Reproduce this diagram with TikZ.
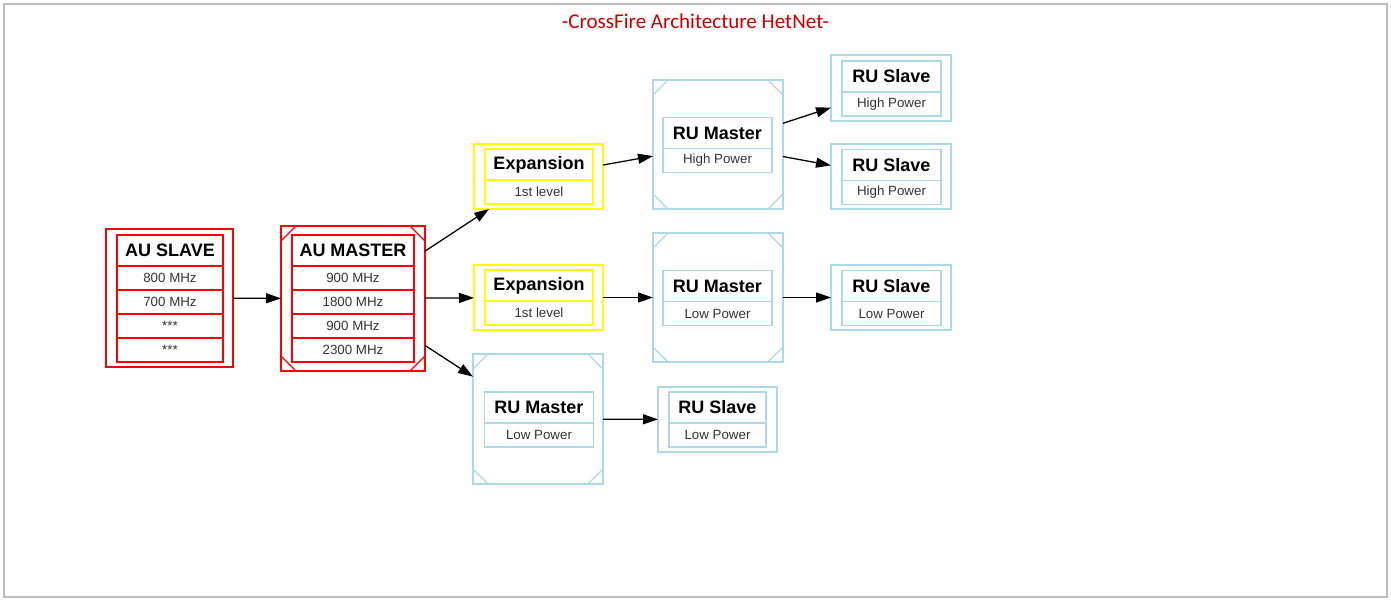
\documentclass[tikz,border=0pt]{standalone}
\usepackage{fontspec}
\setmainfont{Liberation Sans}
\newfontfamily\titlefont{Carlito}
\usetikzlibrary{arrows.meta,positioning}

\newdimen\px
\px=0.75pt

\definecolor{aured}{HTML}{FF0000}
\definecolor{expyellow}{HTML}{FFFF00}
\definecolor{rublue}{HTML}{ADD8E6}
\definecolor{titlered}{HTML}{CC0000}
\definecolor{framegray}{HTML}{BDBDBD}

\tikzset{
  box/.style={draw=#1, rectangle, inner sep=0pt, outer sep=0pt, line width=1.2\px},
  msquare/.style={path picture={
      \draw[#1, line width=1.2\px]
        ([yshift=-15\px]path picture bounding box.north west) -- ([xshift=15\px]path picture bounding box.north west)
        ([yshift=-15\px]path picture bounding box.north east) -- ([xshift=-15\px]path picture bounding box.north east)
        ([yshift=15\px]path picture bounding box.south west) -- ([xshift=15\px]path picture bounding box.south west)
        ([yshift=15\px]path picture bounding box.south east) -- ([xshift=-15\px]path picture bounding box.south east);
    }},
  head/.style={box=#1, minimum height=31\px, font=\fontsize{13.5}{16}\selectfont\bfseries},
  row/.style={box=#1, minimum height=24\px, font=\fontsize{10}{12}\selectfont, text=black!80},
  link/.style={-{Triangle[length=11.25pt,width=7.5pt]}, line width=0.95pt},
}

\begin{document}
\begin{tikzpicture}[x=0.75pt, y=-0.75pt]
  \useasboundingbox (0,0) rectangle (1391,601);
  \draw[framegray, line width=1.3\px] (4,4) rectangle (1387,597);

  \node[font=\titlefont\fontsize{15.8}{18}\selectfont, text=titlered] (title) at (695.5,21) {-CrossFire Architecture HetNet-};

  % outer boxes
  \node[box=aured, minimum width=127\px, minimum height=138\px] (ausl) at (169.5,298) {};
  \node[box=aured, msquare=aured, minimum width=144\px, minimum height=145\px] (aums) at (353,298.5) {};
  \node[box=expyellow, minimum width=129\px, minimum height=65\px] (expa) at (538.5,176.5) {};
  \node[box=expyellow, minimum width=129\px, minimum height=65\px] (expb) at (538.5,297.5) {};
  \node[box=rublue, msquare=rublue, minimum width=130\px, minimum height=129\px] (ruma) at (718,144.5) {};
  \node[box=rublue, msquare=rublue, minimum width=130\px, minimum height=129\px] (rumb) at (718,297.5) {};
  \node[box=rublue, msquare=rublue, minimum width=130\px, minimum height=130\px] (rumc) at (538,419) {};
  \node[box=rublue, minimum width=120\px, minimum height=66\px] (rusa) at (891,88) {};
  \node[box=rublue, minimum width=120\px, minimum height=65\px] (rusb) at (891,176.5) {};
  \node[box=rublue, minimum width=120\px, minimum height=65\px] (rusc) at (891,297.5) {};
  \node[box=rublue, minimum width=119\px, minimum height=65\px] (rusd) at (717.5,419.5) {};

  % AU tables
  \begin{scope}[every node/.append style={minimum width=106\px}]
    \node[head=aured] (ausl-h) at (170,250.5) {AU SLAVE};
    \node[row=aured, below=0pt of ausl-h] (ausl-1) {800 MHz};
    \node[row=aured, below=0pt of ausl-1] (ausl-2) {700 MHz};
    \node[row=aured, below=0pt of ausl-2] (ausl-3) {***};
    \node[row=aured, below=0pt of ausl-3] (ausl-4) {***};
  \end{scope}
  \begin{scope}[every node/.append style={minimum width=122\px}]
    \node[head=aured] (aums-h) at (353,250.5) {AU MASTER};
    \node[row=aured, below=0pt of aums-h] (aums-1) {900 MHz};
    \node[row=aured, below=0pt of aums-1] (aums-2) {1800 MHz};
    \node[row=aured, below=0pt of aums-2] (aums-3) {900 MHz};
    \node[row=aured, below=0pt of aums-3] (aums-4) {2300 MHz};
  \end{scope}

  % expansion tables
  \begin{scope}[every node/.append style={minimum width=108\px}]
    \node[head=expyellow] (expa-h) at (539,164.5) {Expansion};
    \node[row=expyellow, below=0pt of expa-h] (expa-1) {1st level};
    \node[head=expyellow] (expb-h) at (539,285.5) {Expansion};
    \node[row=expyellow, below=0pt of expb-h] (expb-1) {1st level};
  \end{scope}

  % RU tables
  \begin{scope}[every node/.append style={minimum width=109\px}]
    \node[head=rublue] (ruma-h) at (717.5,133) {RU Master};
    \node[row=rublue, below=0pt of ruma-h] (ruma-1) {High Power};
    \node[head=rublue] (rumb-h) at (717.5,286) {RU Master};
    \node[row=rublue, below=0pt of rumb-h] (rumb-1) {Low Power};
    \node[head=rublue] (rumc-h) at (539,407.5) {RU Master};
    \node[row=rublue, below=0pt of rumc-h] (rumc-1) {Low Power};
  \end{scope}
  \begin{scope}[every node/.append style={minimum width=99\px}]
    \node[head=rublue] (rusa-h) at (891.5,76.5) {RU Slave};
    \node[row=rublue, below=0pt of rusa-h] (rusa-1) {High Power};
    \node[head=rublue] (rusb-h) at (891.5,165) {RU Slave};
    \node[row=rublue, below=0pt of rusb-h] (rusb-1) {High Power};
    \node[head=rublue] (rusc-h) at (891.5,286) {RU Slave};
    \node[row=rublue, below=0pt of rusc-h] (rusc-1) {Low Power};
    \node[head=rublue, minimum width=97\px] (rusd-h) at (717.5,407.5) {RU Slave};
    \node[row=rublue, minimum width=97\px, below=0pt of rusd-h] (rusd-1) {Low Power};
  \end{scope}

  % links
  \draw[link] (ausl) -- (aums);
  \draw[link] (aums) -- (expa);
  \draw[link] (aums) -- (expb);
  \draw[link] (aums) -- (rumc);
  \draw[link] (expa) -- (ruma);
  \draw[link] (expb) -- (rumb);
  \draw[link] (ruma) -- (rusa);
  \draw[link] (ruma) -- (rusb);
  \draw[link] (rumb) -- (rusc);
  \draw[link] (rumc) -- (rusd);

\end{tikzpicture}
\end{document}
